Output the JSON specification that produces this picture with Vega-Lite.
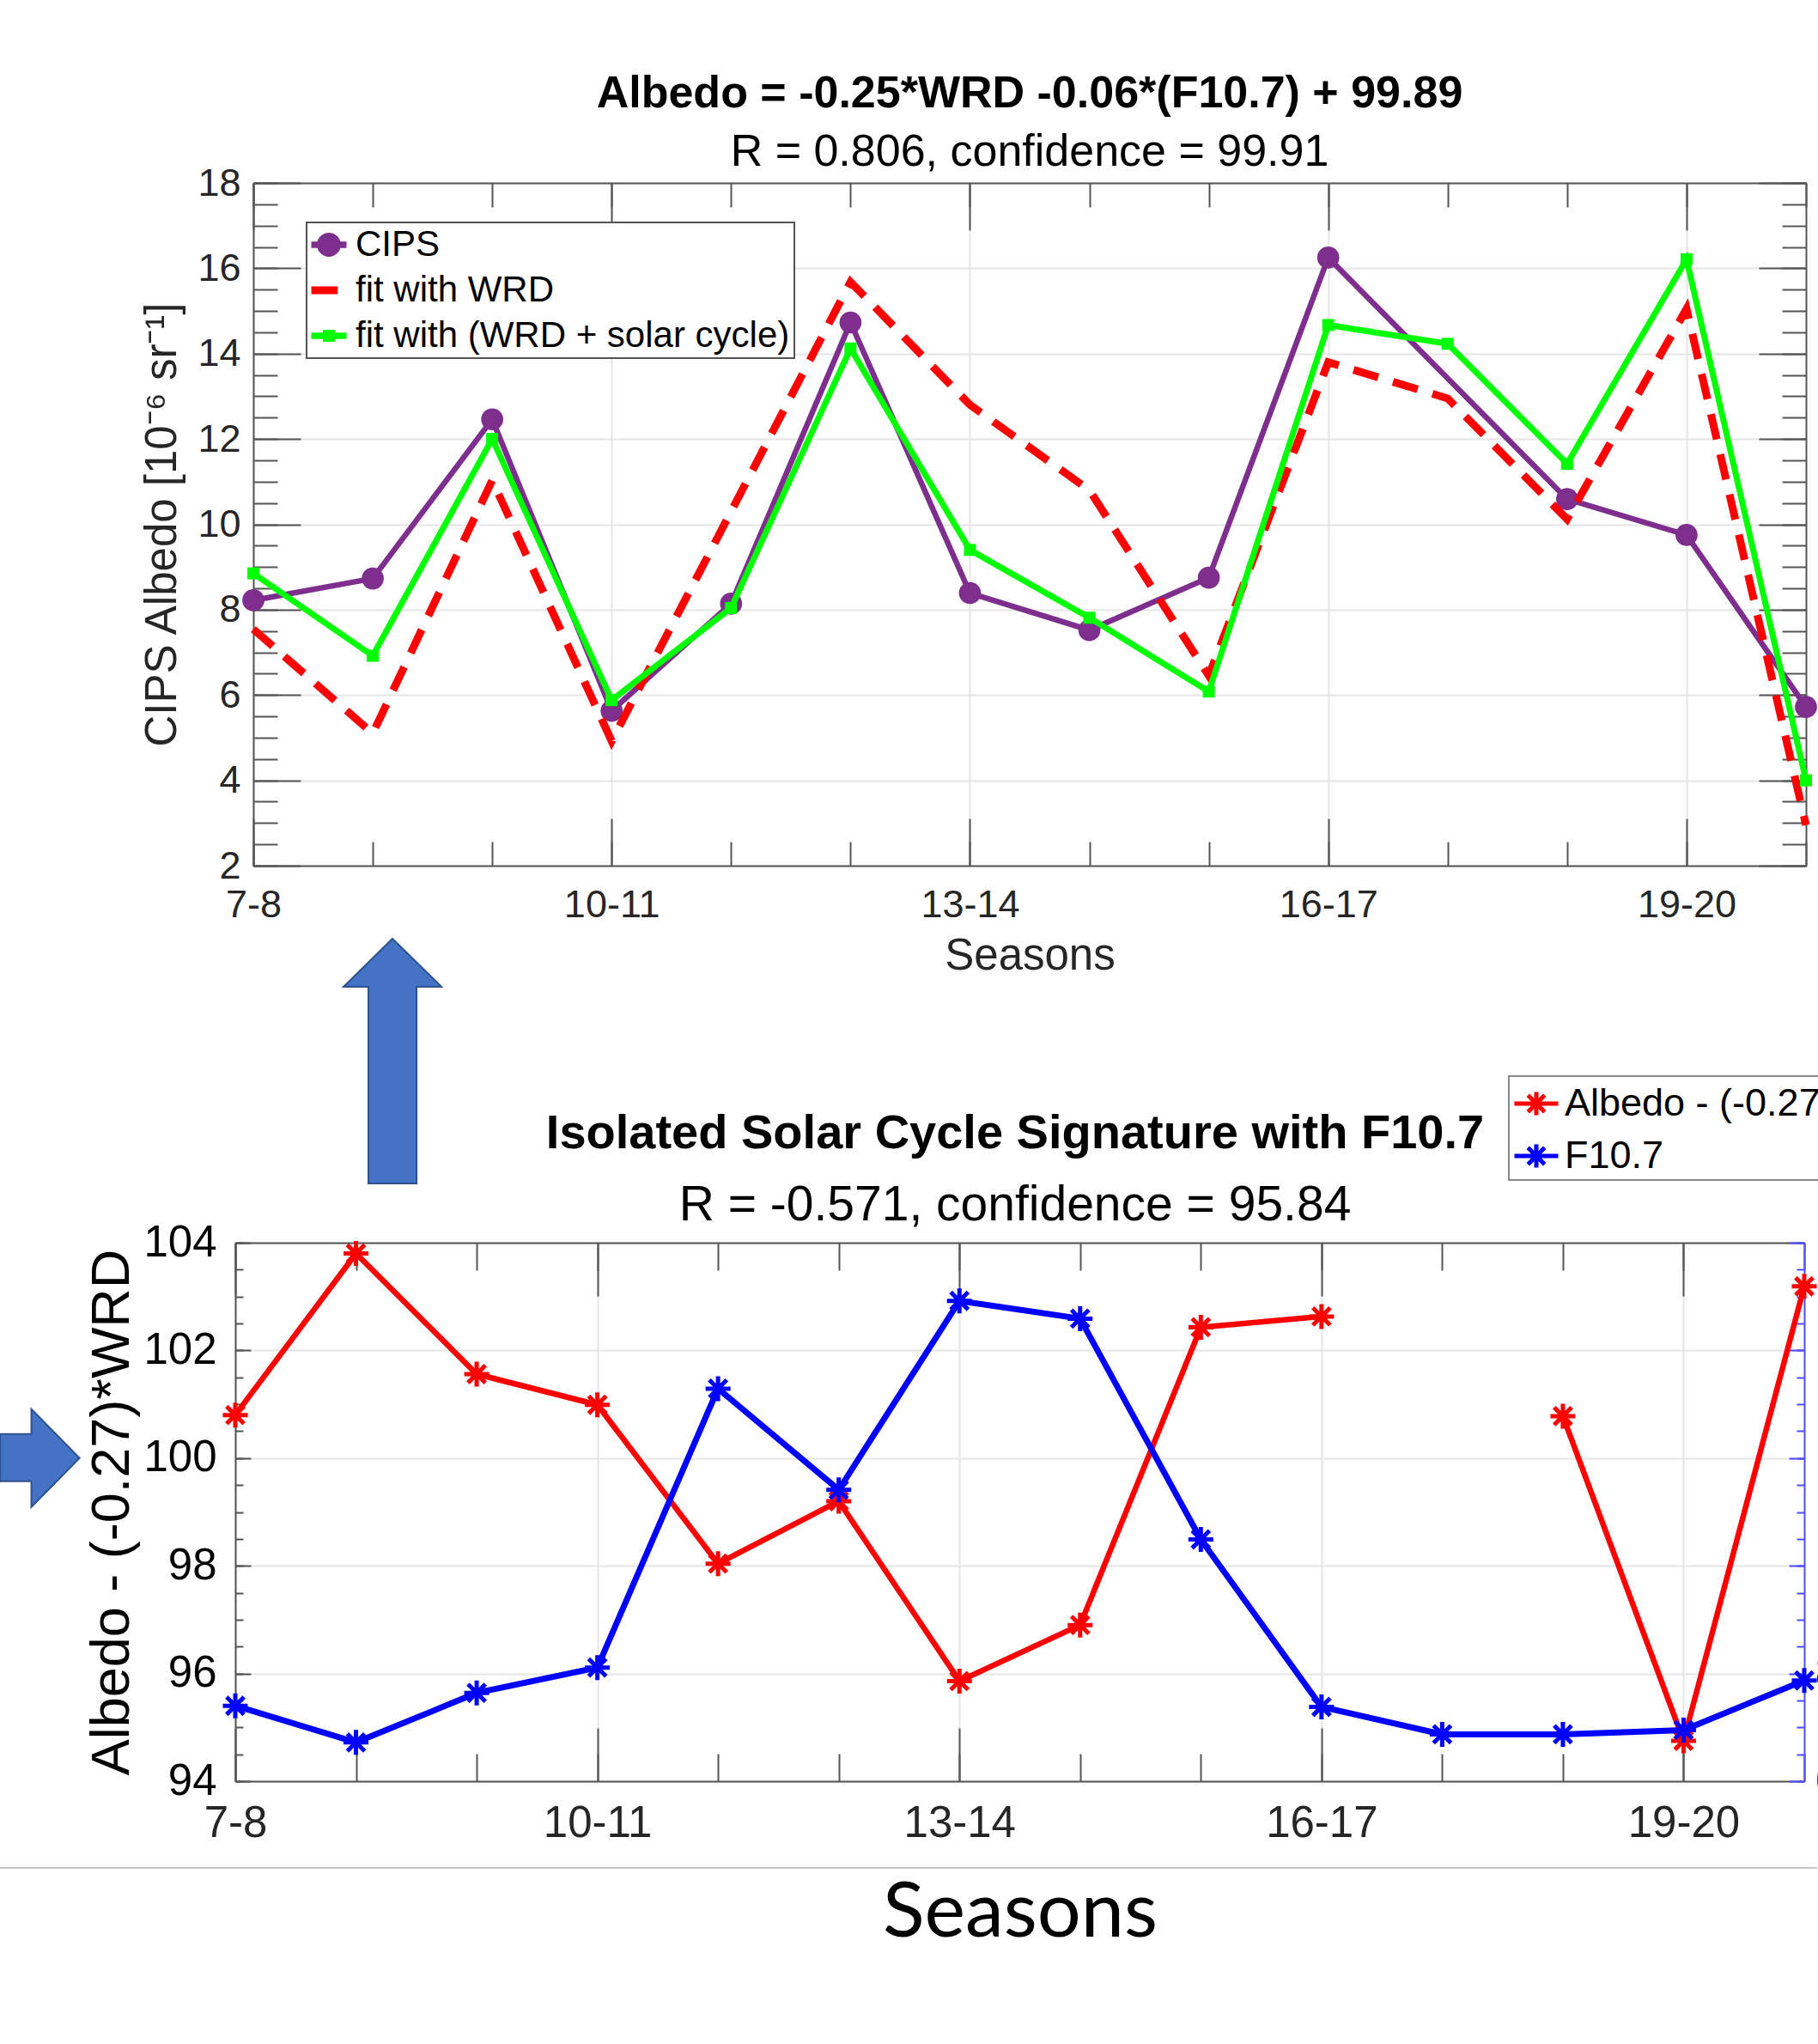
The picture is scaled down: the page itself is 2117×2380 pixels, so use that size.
{
  "$schema": "https://vega.github.io/schema/vega-lite/v6.json",
  "background": "white",
  "padding": {"left": -4, "top": 83, "right": 0, "bottom": 0},
  "bounds": "flush",
  "spacing": 439,
  "resolve": {"scale": {"color": "independent", "shape": "independent"}, "legend": {"color": "independent", "shape": "independent"}},
  "config": {
    "view": {"stroke": null},
    "axis": {
      "domainColor": "#555555", "domainWidth": 2, "tickColor": "#555555", "tickWidth": 2,
      "gridColor": "#e6e6e6", "gridWidth": 2, "labelColor": "#262626", "labelFont": "Liberation Sans",
      "titleFont": "Liberation Sans", "titleColor": "#262626", "titleFontWeight": "normal",
      "labelFlush": false, "labelOverlap": false, "labelBound": false
    },
    "legend": {"strokeWidth": 2}
  },
  "datasets": {
    "top": [
      {"year": 7, "series": "CIPS", "value": 8.22},
      {"year": 8, "series": "CIPS", "value": 8.73},
      {"year": 9, "series": "CIPS", "value": 12.46},
      {"year": 10, "series": "CIPS", "value": 5.63},
      {"year": 11, "series": "CIPS", "value": 8.14},
      {"year": 12, "series": "CIPS", "value": 14.73},
      {"year": 13, "series": "CIPS", "value": 8.39},
      {"year": 14, "series": "CIPS", "value": 7.52},
      {"year": 15, "series": "CIPS", "value": 8.75},
      {"year": 16, "series": "CIPS", "value": 16.25},
      {"year": 18, "series": "CIPS", "value": 10.59},
      {"year": 19, "series": "CIPS", "value": 9.75},
      {"year": 20, "series": "CIPS", "value": 5.72},
      {"year": 7, "series": "fit with WRD", "value": 7.54},
      {"year": 8, "series": "fit with WRD", "value": 5.1},
      {"year": 9, "series": "fit with WRD", "value": 11.03},
      {"year": 10, "series": "fit with WRD", "value": 4.92},
      {"year": 11, "series": "fit with WRD", "value": 10.3},
      {"year": 12, "series": "fit with WRD", "value": 15.68},
      {"year": 13, "series": "fit with WRD", "value": 12.8},
      {"year": 14, "series": "fit with WRD", "value": 10.8},
      {"year": 15, "series": "fit with WRD", "value": 6.45},
      {"year": 16, "series": "fit with WRD", "value": 13.8},
      {"year": 17, "series": "fit with WRD", "value": 12.95},
      {"year": 18, "series": "fit with WRD", "value": 10.12},
      {"year": 19, "series": "fit with WRD", "value": 15.05},
      {"year": 20, "series": "fit with WRD", "value": 2.95},
      {"year": 7, "series": "fit with (WRD + solar cycle)", "value": 8.85},
      {"year": 8, "series": "fit with (WRD + solar cycle)", "value": 6.92},
      {"year": 9, "series": "fit with (WRD + solar cycle)", "value": 12.0},
      {"year": 10, "series": "fit with (WRD + solar cycle)", "value": 5.88},
      {"year": 11, "series": "fit with (WRD + solar cycle)", "value": 8.04},
      {"year": 12, "series": "fit with (WRD + solar cycle)", "value": 14.12},
      {"year": 13, "series": "fit with (WRD + solar cycle)", "value": 9.4},
      {"year": 14, "series": "fit with (WRD + solar cycle)", "value": 7.81},
      {"year": 15, "series": "fit with (WRD + solar cycle)", "value": 6.08},
      {"year": 16, "series": "fit with (WRD + solar cycle)", "value": 14.67},
      {"year": 17, "series": "fit with (WRD + solar cycle)", "value": 14.23},
      {"year": 18, "series": "fit with (WRD + solar cycle)", "value": 11.42},
      {"year": 19, "series": "fit with (WRD + solar cycle)", "value": 16.21},
      {"year": 20, "series": "fit with (WRD + solar cycle)", "value": 4.0}
    ],
    "bottom": [
      {"year": 7, "series": "Albedo - (-0.27)*WRD", "value": 100.8, "seg": 1},
      {"year": 8, "series": "Albedo - (-0.27)*WRD", "value": 103.8, "seg": 1},
      {"year": 9, "series": "Albedo - (-0.27)*WRD", "value": 101.56, "seg": 1},
      {"year": 10, "series": "Albedo - (-0.27)*WRD", "value": 100.99, "seg": 1},
      {"year": 11, "series": "Albedo - (-0.27)*WRD", "value": 98.04, "seg": 1},
      {"year": 12, "series": "Albedo - (-0.27)*WRD", "value": 99.2, "seg": 1},
      {"year": 13, "series": "Albedo - (-0.27)*WRD", "value": 95.86, "seg": 1},
      {"year": 14, "series": "Albedo - (-0.27)*WRD", "value": 96.9, "seg": 1},
      {"year": 15, "series": "Albedo - (-0.27)*WRD", "value": 102.43, "seg": 1},
      {"year": 16, "series": "Albedo - (-0.27)*WRD", "value": 102.63, "seg": 1},
      {"year": 18, "series": "Albedo - (-0.27)*WRD", "value": 100.78, "seg": 2},
      {"year": 19, "series": "Albedo - (-0.27)*WRD", "value": 94.75, "seg": 2},
      {"year": 20, "series": "Albedo - (-0.27)*WRD", "value": 103.19, "seg": 2},
      {"year": 7, "series": "F10.7", "value": 74.0},
      {"year": 8, "series": "F10.7", "value": 67.2},
      {"year": 9, "series": "F10.7", "value": 76.4},
      {"year": 10, "series": "F10.7", "value": 81.1},
      {"year": 11, "series": "F10.7", "value": 132.9},
      {"year": 12, "series": "F10.7", "value": 114.1},
      {"year": 13, "series": "F10.7", "value": 149.2},
      {"year": 14, "series": "F10.7", "value": 145.9},
      {"year": 15, "series": "F10.7", "value": 104.9},
      {"year": 16, "series": "F10.7", "value": 73.8},
      {"year": 17, "series": "F10.7", "value": 68.7},
      {"year": 18, "series": "F10.7", "value": 68.7},
      {"year": 19, "series": "F10.7", "value": 69.5},
      {"year": 20, "series": "F10.7", "value": 78.7}
    ],
    "one": [{"item": "annotation"}]
  },
  "vconcat": [
    {
      "width": 1808,
      "height": 795,
      "title": {
        "text": "Albedo = -0.25*WRD -0.06*(F10.7) + 99.89",
        "subtitle": "R = 0.806, confidence = 99.91",
        "font": "Liberation Sans", "fontSize": 52, "fontWeight": "bold", "color": "#000000",
        "subtitleFont": "Liberation Sans", "subtitleFontSize": 52, "subtitleColor": "#000000",
        "subtitlePadding": 16, "offset": -13, "anchor": "middle", "frame": "group"
      },
      "data": {"name": "top"},
      "resolve": {"axis": {"x": "independent", "y": "independent"}},
      "layer": [
        {
          "transform": [{"filter": {"field": "series", "equal": "CIPS"}}],
          "mark": {"type": "line", "color": "#7E2F8E", "strokeWidth": 6.5},
          "encoding": {
            "x": {"field": "year", "type": "quantitative", "scale": {"domain": [7, 20], "nice": false, "zero": false},
              "axis": {"orient": "bottom", "values": [7, 10, 13, 16, 19], "tickSize": -55,
                "labelExpr": "datum.value + '-' + (datum.value + 1)", "labelFontSize": 45, "labelPadding": 78,
                "grid": true, "title": "Seasons", "titleFontSize": 51, "titlePadding": 12}},
            "y": {"field": "value", "type": "quantitative", "scale": {"domain": [2, 18], "nice": false, "zero": false},
              "axis": {"orient": "left", "values": [2, 4, 6, 8, 10, 12, 14, 16, 18], "tickSize": -55,
                "labelFontSize": 45, "labelPadding": 70, "grid": true,
                "title": "CIPS Albedo [10⁻⁶ sr⁻¹]", "titleFontSize": 51, "titlePadding": 14}}
          }
        },
        {
          "transform": [{"filter": {"field": "series", "equal": "CIPS"}}],
          "mark": {"type": "point", "shape": "circle", "filled": true, "color": "#7E2F8E", "size": 660, "opacity": 1},
          "encoding": {
            "x": {"field": "year", "type": "quantitative", "scale": {"domain": [7, 20], "nice": false, "zero": false},
              "axis": {"orient": "bottom", "values": [7, 8, 9, 10, 11, 12, 13, 14, 15, 16, 17, 18, 19, 20], "tickSize": -28,
                "labels": false, "domain": false, "grid": false, "title": null}},
            "y": {"field": "value", "type": "quantitative", "scale": {"domain": [2, 18], "nice": false, "zero": false},
              "axis": {"orient": "left", "values": [2, 2.5, 3, 3.5, 4, 4.5, 5, 5.5, 6, 6.5, 7, 7.5, 8, 8.5, 9, 9.5, 10, 10.5, 11, 11.5, 12, 12.5, 13, 13.5, 14, 14.5, 15, 15.5, 16, 16.5, 17, 17.5, 18],
                "tickSize": -28, "labels": false, "domain": false, "grid": false, "title": null}}
          }
        },
        {
          "transform": [{"filter": {"field": "series", "equal": "fit with WRD"}}],
          "mark": {"type": "line", "color": "#FF0000", "strokeWidth": 9, "strokeDash": [30, 18], "strokeCap": "butt"},
          "encoding": {
            "x": {"field": "year", "type": "quantitative", "scale": {"domain": [7, 20], "nice": false, "zero": false},
              "axis": {"orient": "top", "values": [7, 10, 13, 16, 19], "tickSize": -55, "labels": false, "domain": true, "grid": false, "title": null}},
            "y": {"field": "value", "type": "quantitative", "scale": {"domain": [2, 18], "nice": false, "zero": false},
              "axis": {"orient": "right", "values": [2, 4, 6, 8, 10, 12, 14, 16, 18], "tickSize": -55, "labels": false, "domain": true, "grid": false, "title": null}}
          }
        },
        {
          "transform": [{"filter": {"field": "series", "equal": "fit with (WRD + solar cycle)"}}],
          "mark": {"type": "line", "color": "#00FF00", "strokeWidth": 7},
          "encoding": {
            "x": {"field": "year", "type": "quantitative", "scale": {"domain": [7, 20], "nice": false, "zero": false},
              "axis": {"orient": "top", "values": [7, 8, 9, 10, 11, 12, 13, 14, 15, 16, 17, 18, 19, 20], "tickSize": -28, "labels": false, "domain": false, "grid": false, "title": null}},
            "y": {"field": "value", "type": "quantitative", "scale": {"domain": [2, 18], "nice": false, "zero": false},
              "axis": {"orient": "right", "values": [2, 2.5, 3, 3.5, 4, 4.5, 5, 5.5, 6, 6.5, 7, 7.5, 8, 8.5, 9, 9.5, 10, 10.5, 11, 11.5, 12, 12.5, 13, 13.5, 14, 14.5, 15, 15.5, 16, 16.5, 17, 17.5, 18],
                "tickSize": -28, "labels": false, "domain": false, "grid": false, "title": null}}
          }
        },
        {
          "transform": [{"filter": {"field": "series", "equal": "fit with (WRD + solar cycle)"}}],
          "mark": {"type": "point", "shape": "square", "filled": true, "color": "#00FF00", "size": 196, "opacity": 1},
          "encoding": {
            "x": {"field": "year", "type": "quantitative", "scale": {"domain": [7, 20], "nice": false, "zero": false}, "axis": null},
            "y": {"field": "value", "type": "quantitative", "scale": {"domain": [2, 18], "nice": false, "zero": false}, "axis": null}
          }
        },
        {
          "mark": {"type": "point", "filled": true, "opacity": 0},
          "encoding": {
            "x": {"field": "year", "type": "quantitative", "scale": {"domain": [7, 20], "nice": false, "zero": false}, "axis": null},
            "y": {"field": "value", "type": "quantitative", "scale": {"domain": [2, 18], "nice": false, "zero": false}, "axis": null},
            "color": {"field": "series", "type": "nominal",
              "scale": {"domain": ["CIPS", "fit with WRD", "fit with (WRD + solar cycle)"], "range": ["#7E2F8E", "#FF0000", "#00FF00"]},
              "legend": {"orient": "none", "legendX": 62, "legendY": 46, "title": null, "labelFont": "Liberation Sans", "labelFontSize": 42,
                "labelColor": "#000000", "labelLimit": 1000, "labelOffset": 10, "symbolSize": 1681, "symbolStrokeWidth": 0, "symbolOpacity": 1,
                "padding": 5, "rowPadding": 11, "strokeColor": "#555555", "fillColor": "#ffffff"}},
            "shape": {"field": "series", "type": "nominal",
              "scale": {"domain": ["CIPS", "fit with WRD", "fit with (WRD + solar cycle)"],
                "range": ["M-1,-0.18L1,-0.18L1,0.18L-1,0.18Z M0.68,0A0.68,0.68,0,1,1,-0.68,0A0.68,0.68,0,1,1,0.68,0Z",
                  "M-1,-0.22L0.5,-0.22L0.5,0.22L-1,0.22Z",
                  "M-1,-0.18L1,-0.18L1,0.18L-1,0.18Z M-0.34,-0.34L0.34,-0.34L0.34,0.34L-0.34,0.34Z"]},
              "legend": {"orient": "none", "legendX": 62, "legendY": 46, "title": null, "labelFont": "Liberation Sans", "labelFontSize": 42,
                "labelColor": "#000000", "labelLimit": 1000, "labelOffset": 10, "symbolSize": 1681, "symbolStrokeWidth": 0, "symbolOpacity": 1,
                "padding": 5, "rowPadding": 11, "strokeColor": "#555555", "fillColor": "#ffffff"}}
          }
        },
        {
          "data": {"name": "one"},
          "mark": {"type": "point", "filled": true, "shape": "M0,-0.95L0.38,-0.577L0.187,-0.577L0.187,0.95L-0.187,0.95L-0.187,-0.577L-0.38,-0.577Z",
            "size": 90000, "fill": "#4472C4", "stroke": "#2F528F", "strokeWidth": 2, "opacity": 1},
          "encoding": {
            "x": {"datum": 8.165, "type": "quantitative", "scale": {"domain": [7, 20], "nice": false, "zero": false}, "axis": null},
            "y": {"datum": -2.578, "type": "quantitative", "scale": {"domain": [2, 18], "nice": false, "zero": false}, "axis": null}
          }
        }
      ]
    },
    {
      "width": 1806,
      "height": 627,
      "title": {
        "text": "Isolated Solar Cycle Signature with F10.7",
        "subtitle": "R = -0.571, confidence = 95.84",
        "font": "Liberation Sans", "fontSize": 56, "fontWeight": "bold", "color": "#000000",
        "subtitleFont": "Liberation Sans", "subtitleFontSize": 57, "subtitleColor": "#000000",
        "subtitlePadding": 27, "offset": -181, "anchor": "middle", "frame": "group", "dx": -16
      },
      "data": {"name": "bottom"},
      "resolve": {"scale": {"y": "independent"}, "axis": {"x": "independent", "y": "independent"}},
      "layer": [
        {
          "transform": [{"filter": {"field": "series", "equal": "Albedo - (-0.27)*WRD"}}],
          "mark": {"type": "line", "color": "#FF0000", "strokeWidth": 6.5},
          "encoding": {
            "x": {"field": "year", "type": "quantitative", "scale": {"domain": [7, 20], "range": [-21, 1806], "nice": false, "zero": false},
              "axis": {"orient": "bottom", "values": [7, 10, 13, 16, 19], "tickSize": -62,
                "labelExpr": "datum.value + '-' + (datum.value + 1)", "labelFontSize": 51, "labelPadding": 86,
                "grid": true, "title": "Seasons", "titleFont": "Lato", "titleFontSize": 90, "titleColor": "#000000", "titlePadding": 35}},
            "y": {"field": "value", "type": "quantitative", "scale": {"domain": [94, 104], "nice": false, "zero": false},
              "axis": {"orient": "left", "offset": 21, "values": [94, 96, 98, 100, 102, 104], "tickSize": -18,
                "labelFontSize": 51, "labelColor": "#000000", "labelPadding": 40, "grid": true,
                "title": "Albedo - (-0.27)*WRD", "titleFontSize": 63, "titleColor": "#000000", "titlePadding": 4}},
            "detail": {"field": "seg", "type": "nominal"}
          }
        },
        {
          "transform": [{"filter": {"field": "series", "equal": "Albedo - (-0.27)*WRD"}}],
          "mark": {"type": "point", "shape": "M-1,0L1,0M0,-1L0,1M-0.7,-0.7L0.7,0.7M-0.7,0.7L0.7,-0.7", "filled": false, "color": "#FF0000", "strokeWidth": 5, "size": 841, "opacity": 1},
          "encoding": {
            "x": {"field": "year", "type": "quantitative", "scale": {"domain": [7, 20], "range": [-21, 1806], "nice": false, "zero": false},
              "axis": {"orient": "bottom", "values": [7, 8, 9, 10, 11, 12, 13, 14, 15, 16, 17, 18, 19, 20], "tickSize": -32, "labels": false, "domain": false, "grid": false, "title": null}},
            "y": {"field": "value", "type": "quantitative", "scale": {"domain": [94, 104], "nice": false, "zero": false},
              "axis": {"orient": "left", "offset": 21, "values": [94, 94.5, 95, 95.5, 96, 96.5, 97, 97.5, 98, 98.5, 99, 99.5, 100, 100.5, 101, 101.5, 102, 102.5, 103, 103.5, 104],
                "tickSize": -9, "labels": false, "domain": false, "grid": false, "title": null}}
          }
        },
        {
          "transform": [{"filter": {"field": "series", "equal": "F10.7"}}],
          "mark": {"type": "line", "color": "#0000FF", "strokeWidth": 7},
          "encoding": {
            "x": {"field": "year", "type": "quantitative", "scale": {"domain": [7, 20], "range": [-21, 1806], "nice": false, "zero": false},
              "axis": {"orient": "top", "values": [7, 10, 13, 16, 19], "tickSize": -62, "labels": false, "domain": true, "grid": false, "title": null}},
            "y": {"field": "value", "type": "quantitative", "scale": {"domain": [60, 160], "nice": false, "zero": false},
              "axis": {"orient": "right", "values": [60, 80, 100, 120, 140, 160], "tickSize": -18, "labels": true,
                "labelFontSize": 51, "labelColor": "#0000FF", "labelPadding": 30,
                "domain": true, "domainColor": "#4d4dff", "tickColor": "#4d4dff", "grid": false, "title": null}}
          }
        },
        {
          "transform": [{"filter": {"field": "series", "equal": "F10.7"}}],
          "mark": {"type": "point", "shape": "M-1,0L1,0M0,-1L0,1M-0.7,-0.7L0.7,0.7M-0.7,0.7L0.7,-0.7", "filled": false, "color": "#0000FF", "strokeWidth": 5, "size": 841, "opacity": 1},
          "encoding": {
            "x": {"field": "year", "type": "quantitative", "scale": {"domain": [7, 20], "range": [-21, 1806], "nice": false, "zero": false},
              "axis": {"orient": "top", "values": [7, 8, 9, 10, 11, 12, 13, 14, 15, 16, 17, 18, 19, 20], "tickSize": -32, "labels": false, "domain": false, "grid": false, "title": null}},
            "y": {"field": "value", "type": "quantitative", "scale": {"domain": [60, 160], "nice": false, "zero": false},
              "axis": {"orient": "right", "values": [60, 65, 70, 75, 80, 85, 90, 95, 100, 105, 110, 115, 120, 125, 130, 135, 140, 145, 150, 155, 160],
                "tickSize": -9, "labels": false, "domain": false, "tickColor": "#4d4dff", "grid": false, "title": null}}
          }
        },
        {
          "mark": {"type": "point", "filled": false, "opacity": 0},
          "encoding": {
            "x": {"field": "year", "type": "quantitative", "scale": {"domain": [7, 20], "range": [-21, 1806], "nice": false, "zero": false}, "axis": null},
            "y": {"field": "value", "type": "quantitative", "scale": {"domain": [60, 160], "nice": false, "zero": false}, "axis": null},
            "color": {"field": "series", "type": "nominal",
              "scale": {"domain": ["Albedo - (-0.27)*WRD", "F10.7"], "range": ["#FF0000", "#0000FF"]},
              "legend": {"orient": "none", "legendX": 1462, "legendY": -194, "title": null, "labelFont": "Liberation Sans", "labelFontSize": 45,
                "labelColor": "#000000", "labelLimit": 1000, "labelOffset": 5,
                "symbolType": "M-1,0L1,0M0,-0.53L0,0.53M-0.38,-0.38L0.38,0.38M-0.38,0.38L0.38,-0.38",
                "symbolSize": 2601, "symbolStrokeWidth": 5, "symbolOpacity": 1,
                "padding": 4, "rowPadding": 9, "strokeColor": "#888888", "fillColor": "#ffffff"}}
          }
        },
        {
          "data": {"name": "one"},
          "mark": {"type": "point", "filled": true, "shape": "M-0.783,-0.467L-0.175,-0.467L-0.175,-0.95L0.76,0L-0.175,0.95L-0.175,0.45L-0.783,0.45Z",
            "size": 14400, "fill": "#4472C4", "stroke": "#2F528F", "strokeWidth": 2, "opacity": 1},
          "encoding": {
            "x": {"datum": 5.385, "type": "quantitative", "scale": {"domain": [7, 20], "range": [-21, 1806], "nice": false, "zero": false}, "axis": null},
            "y": {"datum": 100, "type": "quantitative", "scale": {"domain": [94, 104], "nice": false, "zero": false}, "axis": null}
          }
        },
        {
          "data": {"name": "one"},
          "mark": {"type": "rule", "color": "#c8c8c8", "strokeWidth": 2},
          "encoding": {
            "x": {"datum": 5.05, "type": "quantitative", "scale": {"domain": [7, 20], "range": [-21, 1806], "nice": false, "zero": false}, "axis": null},
            "x2": {"datum": 20.11},
            "y": {"datum": 92.39, "type": "quantitative", "scale": {"domain": [94, 104], "nice": false, "zero": false}, "axis": null}
          }
        }
      ]
    }
  ]
}
